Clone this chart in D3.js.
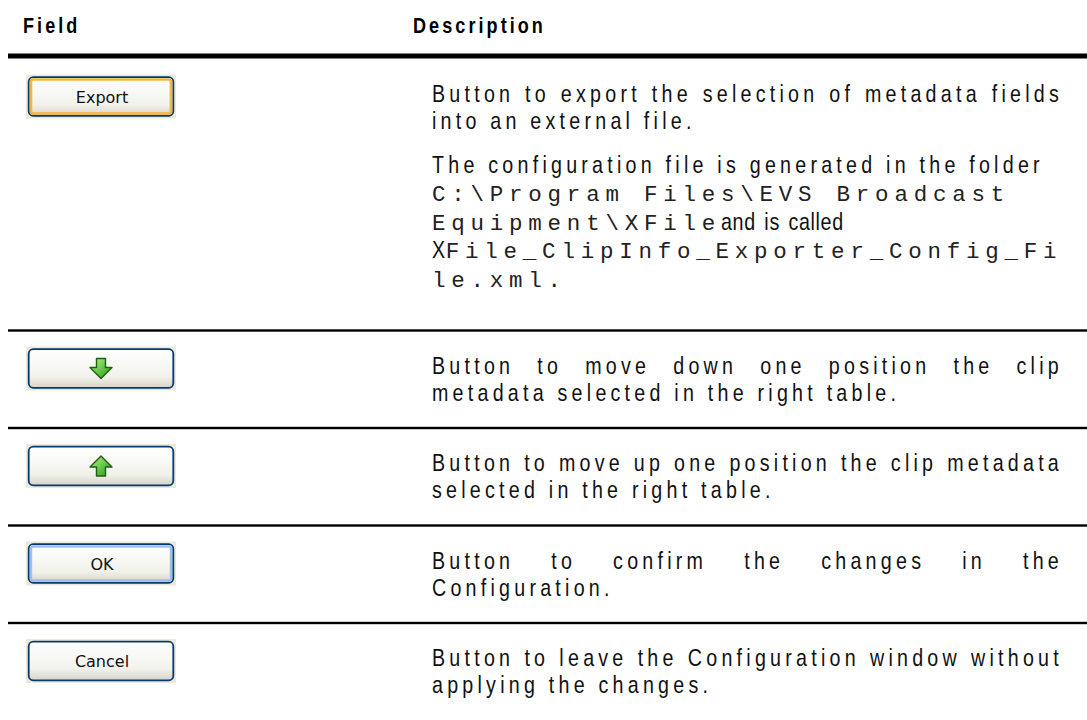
<!DOCTYPE html>
<html><head><meta charset="utf-8">
<script src="https://cdn.jsdelivr.net/npm/d3@7"></script>
<style>html,body{margin:0;padding:0;background:#fff;} svg{display:block}</style>
</head><body>
<svg id="c" width="1087" height="720"></svg>
<script>
// ---------- data ----------
const headers = ["Field", "Description"];
const buttonLabels = ["Export", "", "", "OK", "Cancel"];
const buttonIcons = [null, "down", "up", null, null];
const buttonStates = ["focus", "normal", "normal", "default", "normal"];
// each line: segments [font, text], j = justified, gap = paragraph space before
const descRow1 = [
  {segs: [["s", "Button to export the selection of metadata fields"]], j: true},
  {segs: [["s", "into an external file."]]},
  {segs: [["s", "The configuration file is generated in the folder"]], gap: true},
  {segs: [["m", "C:\\Program Files\\EVS Broadcast"]]},
  {segs: [["m", "Equipment\\XFile"], ["n", " and is called"]]},
  {segs: [["n", "X"], ["m", "File_ClipInfo_Exporter_Config_Fi"]]},
  {segs: [["m", "le.xml."]]}
];
const descRow2 = [
  {segs: [["s", "Button to move down one position the clip"]], j: true},
  {segs: [["s", "metadata selected in the right table."]]}
];
const descRow3 = [
  {segs: [["s", "Button to move up one position the clip metadata"]], j: true},
  {segs: [["s", "selected in the right table."]]}
];
const descRow4 = [
  {segs: [["s", "Button to confirm the changes in the"]], j: true},
  {segs: [["s", "Configuration."]]}
];
const descRow5 = [
  {segs: [["s", "Button to leave the Configuration window without"]], j: true},
  {segs: [["s", "applying the changes."]]}
];
const descriptions = [descRow1, descRow2, descRow3, descRow4, descRow5];

// ---------- layout ----------
const W = 1087, H = 720;
const svg = d3.select("#c");
const MONO = "'Liberation Mono','Courier New',monospace";
const textX = 432, textRight = 1063;
const fieldX = 23, descHeadX = 413;
const bodySize = 24, monoSize = 22.5, headSize = 22;
const lineH = 27, monoLineH = 28.5, paraGap = 17;
const firstOffset = 36, bottomPadRow1 = 51, bottomPad = 34.5;
const headerLineY = 56;

function measure(str, family, size, weight) {
  const t = svg.append("text").attr("font-family", family).attr("font-size", size)
    .attr("font-weight", weight || "normal").text(str);
  const w = t.node().getComputedTextLength();
  t.remove();
  return w;
}
// condensed face: real narrow font if installed, else horizontally scaled Liberation Sans
const probe = "The configuration file is generated";
const hasNarrow = Math.abs(measure(probe, "'Liberation Sans Narrow',serif", 20) - measure(probe, "serif", 20)) > 1;
const SANS = hasNarrow ? "'Liberation Sans Narrow'" : "'Liberation Sans',Arial,sans-serif";
const sx = hasNarrow ? 1 : 0.82;

function fitSpacing(str, family, size, weight, target, scale) {
  const w = measure(str, family, size, weight);
  return (target / scale - w) / str.length;
}
const lsBody = fitSpacing("The configuration file is generated in the folder", SANS, bodySize, "normal", 612, sx);
const lsMono = fitSpacing("C:\\Program Files\\EVS Broadcast", MONO, monoSize, "normal", 578, 1);
const lsHead = fitSpacing("Description", SANS, headSize, "bold", 133, sx);

// draw one text run, returns its visual width
function run(parent, x, y, font, str, extra) {
  const scale = font === "m" ? 1 : sx;
  const g = parent.append("g").attr("transform", `translate(${x},${y}) scale(${scale},1)`);
  const t = g.append("text").attr("x", 0).attr("y", 0).attr("fill", "#111").text(str);
  if (font === "m") t.attr("font-family", MONO).attr("font-size", monoSize).attr("letter-spacing", lsMono).attr("fill", "#222");
  else if (font === "n") t.attr("font-family", SANS).attr("font-size", bodySize).attr("letter-spacing", 0.8).style("word-spacing", "3px");
  else if (font === "h") t.attr("font-family", SANS).attr("font-size", headSize).attr("font-weight", "bold").attr("letter-spacing", lsHead).attr("fill", "#000");
  else t.attr("font-family", SANS).attr("font-size", bodySize).attr("letter-spacing", lsBody);
  if (extra) {
    const w = t.node().getComputedTextLength();
    const n = (str.match(/ /g) || []).length;
    t.style("word-spacing", ((extra / scale - w) / n) + "px");
  }
  return t.node().getComputedTextLength() * scale;
}

// header
headers.forEach((h, i) => run(svg, i === 0 ? fieldX : descHeadX, 33, "h", h));
svg.append("rect").attr("x", 8).attr("y", headerLineY - 2.5).attr("width", W - 8).attr("height", 5).attr("fill", "#000");

// compute row positions
const rowTops = [];
let cursorY = headerLineY + 2.5;
descriptions.forEach((lines, i) => {
  rowTops.push(cursorY);
  let y = firstOffset;
  lines.forEach((l, k) => {
    if (k > 0) y += (l.gap ? lineH + paraGap : (l.segs.some(s => s[0] === "m") ? monoLineH : lineH));
    l.cy = y;
  });
  cursorY += y + (i === 0 ? bottomPadRow1 : bottomPad);
});
const yRow = d3.scaleOrdinal().domain(d3.range(descriptions.length)).range(rowTops);

// row separators
svg.selectAll("rect.sep").data(d3.range(1, descriptions.length)).join("rect").attr("class", "sep")
  .attr("x", 8).attr("width", W - 8).attr("y", d => yRow(d) - 1.2).attr("height", 2.4).attr("fill", "#000");

// descriptions
descriptions.forEach((lines, i) => {
  const g = svg.append("g").attr("transform", `translate(0,${yRow(i)})`);
  lines.forEach(l => {
    let x = textX;
    l.segs.forEach(([f, s]) => {
      x += run(g, x, l.cy + 7, f, s, l.j ? textRight - textX : 0);
    });
  });
});

// buttons
const defs = svg.append("defs");
const bg = defs.append("linearGradient").attr("id", "btnFill").attr("x1", 0).attr("y1", 0).attr("x2", 0).attr("y2", 1);
bg.append("stop").attr("offset", 0).attr("stop-color", "#ffffff");
bg.append("stop").attr("offset", 0.7).attr("stop-color", "#f2f2ec");
bg.append("stop").attr("offset", 1).attr("stop-color", "#d8d3c8");
const ag = defs.append("linearGradient").attr("id", "arrowFill").attr("x1", 0).attr("y1", 0).attr("x2", 1).attr("y2", 1);
ag.append("stop").attr("offset", 0).attr("stop-color", "#b4f58a");
ag.append("stop").attr("offset", 1).attr("stop-color", "#1f9a12");

const btnX = 28, btnW = 146, btnH = 40, btnOff = 18;
buttonLabels.forEach((lab, i) => {
  const y0 = yRow(i) + btnOff;
  const g = svg.append("g").attr("transform", `translate(${btnX},${y0})`);
  g.append("rect").attr("x", -2).attr("y", -2).attr("width", btnW + 4).attr("height", btnH + 4).attr("fill", "#ece9d8");
  g.append("rect").attr("x", 0.7).attr("y", 0.7).attr("width", btnW - 1.4).attr("height", btnH - 1.4)
    .attr("rx", 4.5).attr("fill", "url(#btnFill)").attr("stroke", "#003c74").attr("stroke-width", 1.8);
  if (buttonStates[i] === "focus") {
    g.append("rect").attr("x", 3).attr("y", 3).attr("width", btnW - 6).attr("height", btnH - 6).attr("rx", 2)
      .attr("fill", "none").attr("stroke", "#f6b43c").attr("stroke-width", 2.6);
  } else if (buttonStates[i] === "default") {
    g.append("rect").attr("x", 3).attr("y", 3).attr("width", btnW - 6).attr("height", btnH - 6).attr("rx", 2)
      .attr("fill", "none").attr("stroke", "#9fbdee").attr("stroke-width", 2.4);
  }
  if (lab) {
    g.append("text").attr("x", btnW / 2 + 1).attr("y", btnH / 2 + 6).attr("text-anchor", "middle")
      .attr("font-family", "'DejaVu Sans',Tahoma,sans-serif").attr("font-size", 16).attr("fill", "#111").text(lab);
  }
  const ic = buttonIcons[i];
  if (ic) {
    const s = ic === "down" ? 1 : -1;
    const p = `M-4.5,${-10 * s} L4.5,${-10 * s} L4.5,${-1 * s} L11,${-1 * s} L0,${10 * s} L-11,${-1 * s} L-4.5,${-1 * s} Z`;
    g.append("path").attr("transform", `translate(${btnW / 2},${btnH / 2})`).attr("d", p)
      .attr("fill", "url(#arrowFill)").attr("stroke", "#1d5e12").attr("stroke-width", 1.4).attr("stroke-linejoin", "round");
  }
});
</script>
</body></html>
